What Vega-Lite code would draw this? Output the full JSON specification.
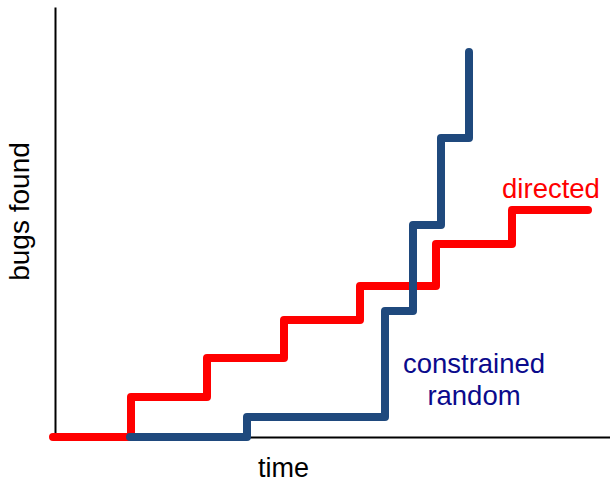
{
  "$schema": "https://vega.github.io/schema/vega-lite/v6.json",
  "autosize": "none",
  "width": 555,
  "height": 430,
  "padding": {"left": 55, "top": 7, "right": 0, "bottom": 45},
  "background": "white",
  "config": {"view": {"stroke": null}, "font": "Liberation Sans"},
  "datasets": {
    "lines": [
      {"series": "directed", "t": -2, "bugs": 0},
      {"series": "directed", "t": 76, "bugs": 40},
      {"series": "directed", "t": 152, "bugs": 79},
      {"series": "directed", "t": 229, "bugs": 117},
      {"series": "directed", "t": 305, "bugs": 151},
      {"series": "directed", "t": 381, "bugs": 193},
      {"series": "directed", "t": 457, "bugs": 227},
      {"series": "directed", "t": 533, "bugs": 227},
      {"series": "constrained random", "t": 75, "bugs": 0},
      {"series": "constrained random", "t": 192, "bugs": 20},
      {"series": "constrained random", "t": 330, "bugs": 126},
      {"series": "constrained random", "t": 358, "bugs": 212},
      {"series": "constrained random", "t": 386, "bugs": 299},
      {"series": "constrained random", "t": 414, "bugs": 385}
    ],
    "labels": [
      {"series": "directed", "text": "directed", "t": 496, "bugs": 239},
      {"series": "constrained random", "text": "constrained", "t": 419, "bugs": 64},
      {"series": "constrained random", "text": "random", "t": 419, "bugs": 32}
    ]
  },
  "encoding": {
    "x": {
      "field": "t", "type": "quantitative",
      "scale": {"domain": [0, 555], "nice": false, "zero": false},
      "axis": {
        "title": "time", "ticks": false, "labels": false, "grid": false,
        "domainColor": "#000000", "domainWidth": 2,
        "titleFontSize": 27, "titleFontWeight": "normal", "titleColor": "#000000",
        "titleFont": "Liberation Sans", "titlePadding": 18, "titleX": 228
      }
    },
    "y": {
      "field": "bugs", "type": "quantitative",
      "scale": {"domain": [0, 430], "nice": false, "zero": false},
      "axis": {
        "title": "bugs found", "ticks": false, "labels": false, "grid": false,
        "domainColor": "#000000", "domainWidth": 2,
        "titleFontSize": 28, "titleFontWeight": "normal", "titleColor": "#000000",
        "titleFont": "Liberation Sans", "titlePadding": 21, "titleY": 204
      }
    }
  },
  "layer": [
    {
      "data": {"name": "lines"},
      "transform": [{"filter": "datum.series === 'directed'"}],
      "mark": {"type": "line", "interpolate": "step-after", "color": "#FF0000", "strokeWidth": 8, "strokeCap": "round", "strokeJoin": "round", "clip": false}
    },
    {
      "data": {"name": "lines"},
      "transform": [{"filter": "datum.series === 'constrained random'"}],
      "mark": {"type": "line", "interpolate": "step-after", "color": "#1F497D", "strokeWidth": 8, "strokeCap": "round", "strokeJoin": "round", "clip": false}
    },
    {
      "data": {"name": "labels"},
      "mark": {"type": "text", "fontSize": 27.5, "font": "Liberation Sans", "align": "center", "baseline": "alphabetic"},
      "encoding": {
        "text": {"field": "text"},
        "color": {
          "field": "series", "type": "nominal", "legend": null,
          "scale": {"domain": ["directed", "constrained random"], "range": ["#FF0000", "#0A0A8C"]}
        }
      }
    }
  ]
}
